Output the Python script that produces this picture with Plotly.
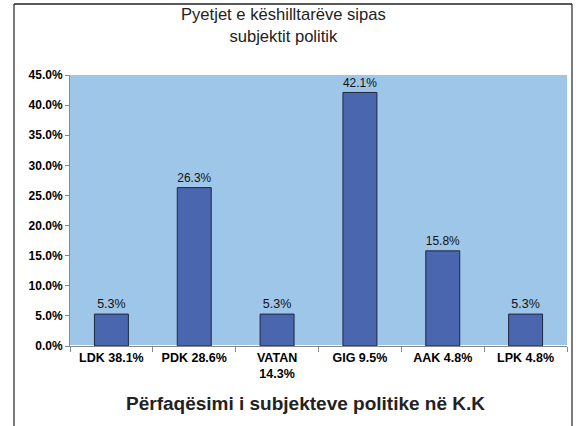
import plotly.graph_objects as go

categories = ["LDK 38.1%", "PDK 28.6%", "VATAN<br>14.3%", "GIG 9.5%", "AAK 4.8%", "LPK 4.8%"]
values = [0.053, 0.263, 0.053, 0.421, 0.158, 0.053]
labels = ["5.3%", "26.3%", "5.3%", "42.1%", "15.8%", "5.3%"]

fig = go.Figure(go.Bar(
    x=categories, y=values, text=labels, textposition="outside",
    textfont=dict(family="Liberation Sans, Arial", size=12.5, color="#111"),
    marker=dict(color="#4A66AE", line=dict(color="#1E2740", width=1)),
    cliponaxis=False,
))

L, R, T, B = 70, 15, 75, 80
W, H = 582, 426
pw, ph = W - L - R, H - T - B

def px(x): return (x - L) / pw
def py(y): return (H - B - y) / ph

border = dict(color="#222", width=1.2)
fig.update_layout(
    width=W, height=H,
    margin=dict(l=L, r=R, t=T, b=B, autoexpand=False),
    paper_bgcolor="white", plot_bgcolor="#9EC6E8",
    showlegend=False, bargap=0.59,
    font=dict(family="Liberation Sans, Arial", color="#000"),
    shapes=[
        dict(type="line", xref="paper", yref="paper", x0=px(14), x1=px(572), y0=py(4), y1=py(4),
             line=dict(color="#222", width=1.5)),
        dict(type="line", xref="paper", yref="paper", x0=px(14), x1=px(14), y0=py(4), y1=py(432), line=border),
        dict(type="line", xref="paper", yref="paper", x0=px(572), x1=px(572), y0=py(4), y1=py(432), line=border),
    ],
    annotations=[
        dict(text="Pyetjet e këshilltarëve sipas<br>subjektit politik", xref="paper", yref="paper",
             x=px(283), y=py(25), xanchor="center", yanchor="middle", showarrow=False,
             font=dict(family="Liberation Sans, Arial", size=16.6, color="#222")),
        dict(text="<b>Përfaqësimi i subjekteve politike në K.K</b>", xref="paper", yref="paper",
             x=px(305), y=py(403), xanchor="center", yanchor="middle", showarrow=False,
             font=dict(family="Liberation Sans, Arial", size=19, color="#222")),
    ],
)
fig.update_yaxes(range=[0, 0.45], dtick=0.05, tickformat=".1%", showgrid=False, automargin=False,
                 ticks="outside", ticklen=4, tickcolor="#888", showline=True, linecolor="#888",
                 tickfont=dict(size=12, family="Liberation Sans, Arial", color="#000", weight="bold"))
fig.update_xaxes(showgrid=False, ticks="outside", tickson="boundaries", ticklen=5, tickcolor="#888",
                 showline=True, linecolor="#888", automargin=False,
                 tickfont=dict(size=12.5, family="Liberation Sans, Arial", color="#000", weight="bold"))

fig.write_html("out.html", config={"displayModeBar": False},
               post_script="document.body.style.margin='0px';")
